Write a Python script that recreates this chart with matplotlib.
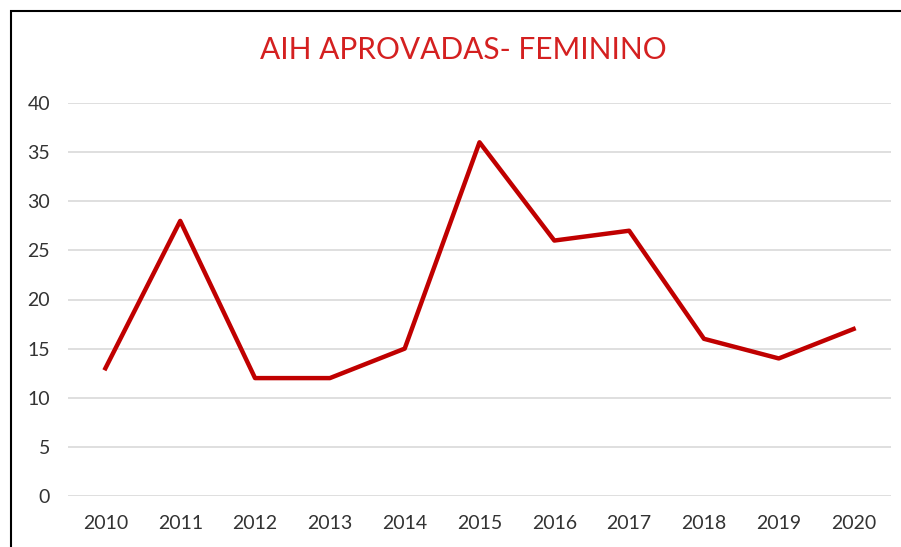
import matplotlib.pyplot as plt
from matplotlib.patches import Rectangle

years = ['2010', '2011', '2012', '2013', '2014', '2015', '2016', '2017', '2018', '2019', '2020']
values = [13, 28, 12, 12, 15, 36, 26, 27, 16, 14, 17]
yticks = [0, 5, 10, 15, 20, 25, 30, 35, 40]

plt.rcParams['font.family'] = ['Lato', 'DejaVu Sans']

fig = plt.figure(figsize=(9.01, 5.47), dpi=100)
ax = fig.add_axes([68 / 901, 1 - 496 / 547, 823 / 901, 393 / 547])

x = range(len(years))
ax.plot(x, values, color='#C00000', linewidth=3.2)

ax.set_xlim(-0.5, len(years) - 0.5)
ax.set_ylim(0, 40)
ax.set_yticks(yticks)
ax.set_xticks(list(x))
ax.set_xticklabels(years)
ax.grid(axis='y', color='#D9D9D9', linewidth=1.2)
ax.set_axisbelow(True)
for s in ax.spines.values():
    s.set_visible(False)
ax.tick_params(length=0, labelsize=14, colors='#333333', pad=14)
ax.tick_params(axis='y', pad=13)

fig.text(463 / 901, 1 - 50 / 547, 'AIH APROVADAS- FEMININO', color='#D42020',
         fontsize=21.5, ha='center', va='center')

# chart frame (left and top edges visible)
fig.patches.append(Rectangle((10.5 / 901, -0.1), 1.2, 1 - 10.5 / 547 + 0.1,
                             transform=fig.transFigure, fill=False,
                             edgecolor='black', linewidth=1.5))

fig.savefig('out.png', dpi=100)
